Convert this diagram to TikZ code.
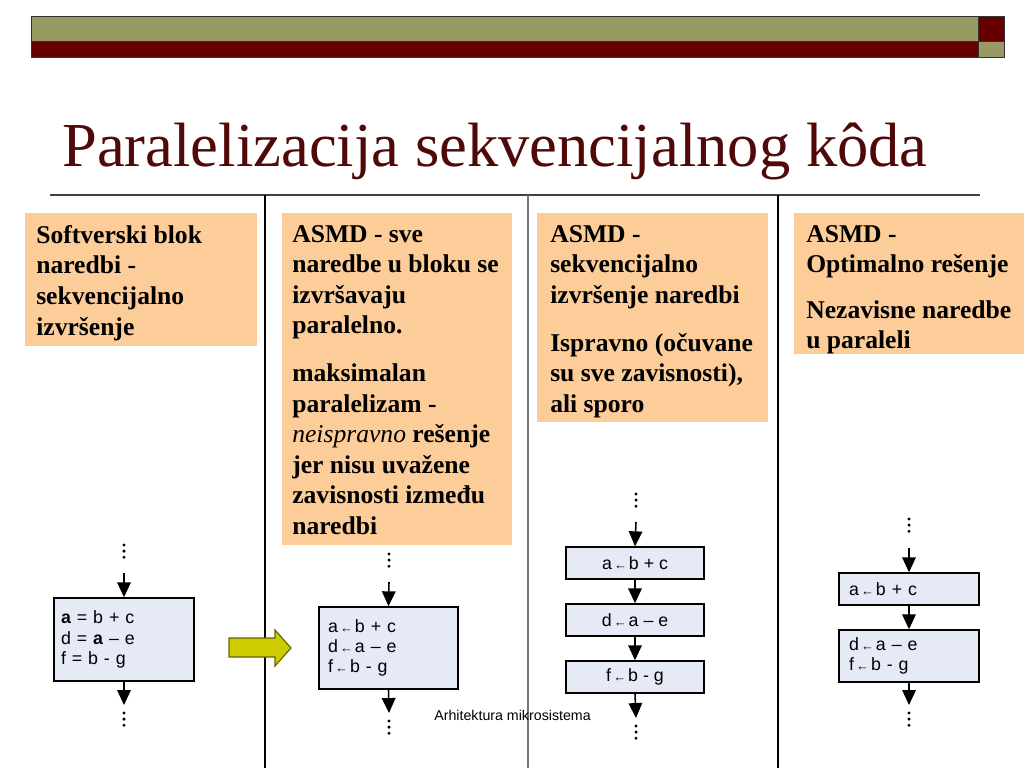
\documentclass[tikz,border=0pt]{standalone}
\usepackage{fontspec}
\setmainfont{Liberation Serif}
\newfontfamily\arialfam{Liberation Sans}
\usetikzlibrary{arrows.meta,fit}
\definecolor{hdrolive}{RGB}{153,153,102}
\definecolor{hdrred}{RGB}{102,0,0}
\definecolor{titlered}{RGB}{80,8,8}
\definecolor{boxorange}{RGB}{252,204,153}
\definecolor{flowfill}{RGB}{230,234,247}
\definecolor{yarrfill}{RGB}{204,204,0}
\definecolor{yarrdraw}{RGB}{102,102,0}
\newlength\pxu
\setlength\pxu{0.703125pt}
\newcommand\smallarr{{\fontsize{9}{9}\selectfont\,←\,}}
\begin{document}
\begin{tikzpicture}[x=0.703125pt,y=-0.703125pt,
  obox/.style={fill=boxorange,draw=none,inner sep=0pt},
  btext/.style={anchor=north west,inner sep=0pt,align=left,
    font=\fontsize{18}{21.5}\selectfont\bfseries},
  fbox/.style={draw=black,fill=flowfill,line width=1pt,
    font=\arialfam\fontsize{12.5}{14.2}\selectfont},
  flowarr/.style={line width=1.1pt,-{Triangle[length=10.5pt,width=9.5pt]}},
  dots/.style={line width=2.3pt,line cap=round,dash pattern=on 0pt off 4.3pt},
  sepline/.style={line width=0.9pt}
]
\useasboundingbox (0,0) rectangle (1024,768);

% header bars
\fill[hdrolive] (31,17) rectangle (978,42);
\fill[hdrred] (31,42) rectangle (978,58);
\fill[hdrred] (978,17) rectangle (1004,42);
\fill[hdrolive] (978,42) rectangle (1004,58);
\draw[black!80,line width=0.7pt] (31,17) rectangle (1004,58);
\draw[black!80,line width=0.7pt] (31,42) -- (1004,42) (978,17) -- (978,58);

% title
\node[anchor=base west,inner sep=0pt,text=titlered,font=\fontsize{44}{50}\selectfont] (title) at (62,167) {Paralelizacija sekvencijalnog kôda};

% separators
\draw[sepline,black!75] (50,195) -- (980,195);
\draw[sepline,black] (265,195) -- (265,768);
\draw[sepline,black!55] (528,195) -- (528,768);
\draw[sepline,black] (778,195) -- (778,768);

% orange boxes
\node[obox,fit={(25,213) (257,346)}] (b1) {};
\node[obox,fit={(282,213) (512,545)}] (b2) {};
\node[obox,fit={(537,213) (768,422)}] (b3) {};
\node[obox,fit={(794,213) (1024,354)}] (b4) {};

\node[btext] (t1) at (36,225) {Softverski blok\\naredbi -\\sekvencijalno\\izvršenje};
\node[btext] (t2) at (292,225) {ASMD - sve\\naredbe u bloku se\\izvršavaju\\paralelno.\\[12pt]maksimalan\\paralelizam -\\{\mdseries\itshape neispravno} rešenje\\jer nisu uvažene\\zavisnosti između\\naredbi};
\node[btext] (t3) at (550,225) {ASMD -\\sekvencijalno\\izvršenje naredbi\\[12pt]Ispravno (očuvane\\su sve zavisnosti),\\ali sporo};
\node[btext] (t4) at (806,225) {ASMD -\\Optimalno rešenje\\[10.5pt]Nezavisne naredbe\\u paraleli};

% column 1
\node[fbox,align=left,text width=126*\pxu,minimum width=140*\pxu,minimum height=83*\pxu,inner xsep=7*\pxu] (f1) at (124,639.5) {\textbf{a} = b + c\\d = \textbf{a} – e\\f = b - g};
\coordinate (c1d1) at (124,545);
\coordinate (c1d2) at (124,563);
\coordinate (c1s) at (124,573);
\coordinate (c1e) at (124,705);
\coordinate (c1d3) at (124,713);
\coordinate (c1d4) at (124,731);
\draw[dots] (c1d1) -- (c1d2);
\draw[flowarr] (c1s) -- (f1.north);
\draw[flowarr] (f1.south) -- (c1e);
\draw[dots] (c1d3) -- (c1d4);

% yellow arrow
\draw[fill=yarrfill,draw=yarrdraw,line width=0.8pt,line join=miter] (229,638) -- (275,638) -- (275,630) -- (291,648) -- (275,666) -- (275,657) -- (229,657) -- cycle;

% column 2
\node[fbox,align=left,text width=121*\pxu,minimum width=139*\pxu,minimum height=82*\pxu,inner xsep=9*\pxu] (f2) at (388.5,648) {a\smallarr b + c\\d\smallarr a – e\\f\smallarr b - g};
\coordinate (c2d1) at (389,554);
\coordinate (c2d2) at (389,572);
\coordinate (c2s) at (389,582);
\coordinate (c2e) at (389,713);
\coordinate (c2d3) at (389,721);
\coordinate (c2d4) at (389,739);
\draw[dots] (c2d1) -- (c2d2);
\draw[flowarr] (c2s) -- (f2.north);
\draw[flowarr] (f2.south) -- (c2e);
\draw[dots] (c2d3) -- (c2d4);

% column 3
\node[fbox,minimum width=138*\pxu,minimum height=32*\pxu] (f3a) at (635,563) {a\smallarr b + c};
\node[fbox,minimum width=138*\pxu,minimum height=32*\pxu] (f3b) at (635,620) {d\smallarr a – e};
\node[fbox,minimum width=138*\pxu,minimum height=32*\pxu] (f3c) at (635,677) {f\smallarr b - g};
\coordinate (c3d1) at (636,494);
\coordinate (c3d2) at (636,512);
\coordinate (c3s) at (636,522);
\coordinate (c3e) at (636,718);
\coordinate (c3d3) at (636,726);
\coordinate (c3d4) at (636,744);
\draw[dots] (c3d1) -- (c3d2);
\draw[flowarr] (c3s) -- (f3a.north);
\draw[flowarr] (f3a.south) -- (f3b.north);
\draw[flowarr] (f3b.south) -- (f3c.north);
\draw[flowarr] (f3c.south) -- (c3e);
\draw[dots] (c3d3) -- (c3d4);

% column 4
\node[fbox,align=left,text width=120*\pxu,minimum width=140*\pxu,minimum height=32*\pxu,inner xsep=10*\pxu] (f4a) at (909,589) {a\smallarr b + c};
\node[fbox,align=left,text width=120*\pxu,minimum width=140*\pxu,minimum height=52*\pxu,inner xsep=10*\pxu] (f4b) at (909,656) {d\smallarr a – e\\f\smallarr b - g};
\coordinate (c4d1) at (909,519);
\coordinate (c4d2) at (909,537);
\coordinate (c4s) at (909,548);
\coordinate (c4e) at (909,705);
\coordinate (c4d3) at (909,713);
\coordinate (c4d4) at (909,731);
\draw[dots] (c4d1) -- (c4d2);
\draw[flowarr] (c4s) -- (f4a.north);
\draw[flowarr] (f4a.south) -- (f4b.north);
\draw[flowarr] (f4b.south) -- (c4e);
\draw[dots] (c4d3) -- (c4d4);

% footer
\node[anchor=base west,inner sep=0pt,font=\arialfam\fontsize{10}{12}\selectfont] (foot) at (434,720) {Arhitektura mikrosistema};
\end{tikzpicture}
\end{document}
